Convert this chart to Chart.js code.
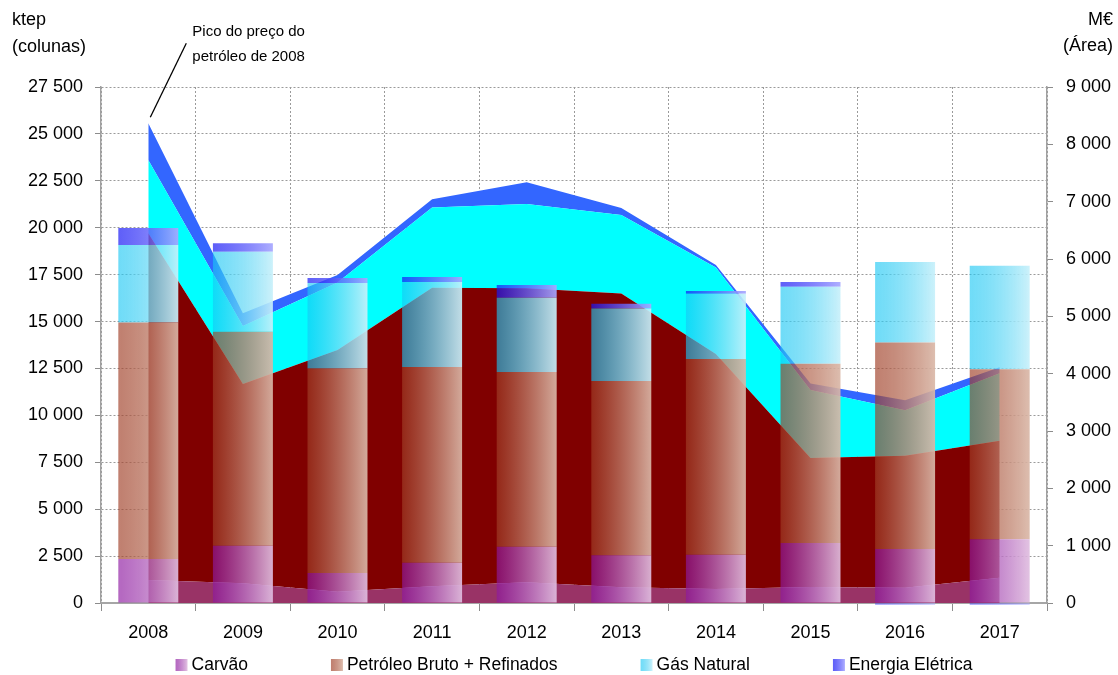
<!DOCTYPE html>
<html>
<head>
<meta charset="utf-8">
<script src="https://cdn.jsdelivr.net/npm/chart.js@4"></script>
<style>
  html, body { margin: 0; padding: 0; background: #ffffff; }
</style>
</head>
<body>
<canvas id="chart" width="1118" height="675"></canvas>
<script>
const years = ['2008', '2009', '2010', '2011', '2012', '2013', '2014', '2015', '2016', '2017'];

// columns, ktep (left axis)
const ktepCarvao = [2350, 3050, 1600, 2150, 3000, 2540, 2575, 3200, 2880, 3400];
const ktepPetroleo = [12600, 11400, 10900, 10430, 9310, 9290, 10430, 9555, 11000, 9060];
const ktepGas = [4130, 4270, 4550, 4530, 3960, 3860, 3480, 4100, 4300, 5520];
const ktepEletrica = [910, 450, 270, 270, 680, 265, 145, 250, -80, -80];

// areas, M€ (right axis)
const meurCarvao = [400, 345, 197, 290, 360, 274, 244, 279, 267, 441];
const meurPetroleo = [6050, 3475, 4215, 5210, 5130, 5126, 4100, 2250, 2300, 2390];
const meurGas = [1277, 1011, 1178, 1400, 1468, 1367, 1507, 1185, 796, 1175];
const meurEletrica = [640, 221, 130, 140, 379, 122, 45, 115, 174, 105];

const legendNames = ['Carvão', 'Petróleo Bruto + Refinados', 'Gás Natural', 'Energia Elétrica'];

const barShare = 0.634;
const FONT = "'Liberation Sans', Arial, sans-serif";

// left (saturated, see-through) -> right (pale, nearly opaque)
const barColors = [
  ['rgba(141,24,160,0.66)', 'rgba(224,190,224,0.92)'],
  ['rgba(159,61,37,0.66)', 'rgba(218,184,168,0.92)'],
  ['rgba(23,198,243,0.62)', 'rgba(200,240,250,0.92)'],
  ['rgba(23,23,245,0.69)', 'rgba(168,168,255,0.92)']
];

function fmt(v) {
  return String(v).replace(/\B(?=(\d{3})+(?!\d))/g, ' ');
}

function barFill(pair) {
  return function(context) {
    const chart = context.chart;
    const x = chart.scales.x;
    if (!chart.chartArea || !x || context.dataIndex === undefined) return pair[1];
    const center = x.getPixelForValue(context.dataIndex);
    const half = (chart.chartArea.width / years.length) * barShare / 2;
    const g = chart.ctx.createLinearGradient(center - half, 0, center + half, 0);
    g.addColorStop(0, pair[0]);
    g.addColorStop(1, pair[1]);
    return g;
  };
}

function barSet(label, data, pair) {
  return {
    type: 'bar',
    label: label,
    data: data,
    yAxisID: 'y',
    backgroundColor: barFill(pair),
    borderWidth: 0,
    categoryPercentage: 1,
    barPercentage: barShare,
    order: 1,
    clip: false
  };
}

function areaSet(label, data, color, fill) {
  return {
    type: 'line',
    label: label,
    data: data,
    yAxisID: 'y1',
    backgroundColor: color,
    borderColor: 'rgba(0,0,0,0)',
    borderWidth: 0,
    pointRadius: 0,
    tension: 0,
    fill: fill,
    order: 2
  };
}

const extras = {
  id: 'extras',
  afterDraw(chart) {
    const ctx = chart.ctx;
    const area = chart.chartArea;
    const x = chart.scales.x;
    const y1 = chart.scales.y1;
    ctx.save();
    ctx.fillStyle = '#000';
    ctx.font = '18px ' + FONT;
    ctx.textBaseline = 'middle';

    // axis titles
    ctx.textAlign = 'left';
    ctx.fillText('ktep', 12, area.top - 67);
    ctx.fillText('(colunas)', 12, area.top - 40);
    ctx.textAlign = 'right';
    ctx.fillText('M€', chart.width - 5, area.top - 67);
    ctx.fillText('(Área)', chart.width - 5, area.top - 41);

    // annotation on the 2008 peak
    const total08 = meurCarvao[0] + meurPetroleo[0] + meurGas[0] + meurEletrica[0];
    const px = x.getPixelForValue(0) + 2;
    const py = y1.getPixelForValue(total08) - 6;
    ctx.strokeStyle = '#000';
    ctx.lineWidth = 1.3;
    ctx.beginPath();
    ctx.moveTo(px, py);
    ctx.lineTo(px + 36, py - 74);
    ctx.stroke();
    ctx.font = '15px ' + FONT;
    ctx.textAlign = 'left';
    ctx.fillText('Pico do preço do', px + 42, py - 85);
    ctx.fillText('petróleo de 2008', px + 42, py - 60);

    // legend
    ctx.font = '17.5px ' + FONT;
    const gap = 83, box = 12, textGap = 4;
    const widths = legendNames.map(n => ctx.measureText(n).width);
    let total = gap * (legendNames.length - 1);
    widths.forEach(w => { total += box + textGap + w; });
    let cx = (area.left + area.right) / 2 - total / 2;
    const ly = 665;
    legendNames.forEach((name, i) => {
      const g = ctx.createLinearGradient(cx, 0, cx + box, 0);
      g.addColorStop(0, barColors[i][0]);
      g.addColorStop(1, barColors[i][1]);
      ctx.fillStyle = g;
      ctx.fillRect(cx, ly - 6, box, box);
      ctx.fillStyle = '#000';
      ctx.fillText(name, cx + box + textGap, ly);
      cx += box + textGap + widths[i] + gap;
    });
    ctx.restore();
  }
};

Chart.defaults.font.family = FONT;
Chart.defaults.font.size = 18;
Chart.defaults.color = '#000';

new Chart(document.getElementById('chart'), {
  data: {
    labels: years,
    datasets: [
      barSet(legendNames[0], ktepCarvao, barColors[0]),
      barSet(legendNames[1], ktepPetroleo, barColors[1]),
      barSet(legendNames[2], ktepGas, barColors[2]),
      barSet(legendNames[3], ktepEletrica, barColors[3]),
      areaSet('Carvão (M€)', meurCarvao, '#993366', 'origin'),
      areaSet('Petróleo (M€)', meurPetroleo, '#800000', '-1'),
      areaSet('Gás Natural (M€)', meurGas, '#00ffff', '-1'),
      areaSet('Energia Elétrica (M€)', meurEletrica, '#3366ff', '-1')
    ]
  },
  options: {
    responsive: false,
    animation: false,
    layout: { padding: { top: 87, left: 0, right: 0, bottom: 0 } },
    plugins: {
      legend: { display: false },
      tooltip: { enabled: false },
      title: { display: false }
    },
    scales: {
      x: {
        stacked: true,
        offset: true,
        grid: { offset: true, color: '#9a9a9a', tickColor: '#8c8c8c', tickLength: 8 },
        border: { color: '#a6a6a6', width: 2, dash: [2, 2] },
        ticks: { padding: 11, maxRotation: 0, autoSkip: false },
        afterFit: s => { s.height = 72; }
      },
      y: {
        stacked: true,
        min: 0,
        max: 27500,
        grid: { color: '#9a9a9a', tickColor: '#8c8c8c', tickLength: 6 },
        border: { color: '#a0a0a0', width: 1.5, dash: [2, 2] },
        ticks: { stepSize: 2500, padding: 12, callback: v => fmt(v) },
        afterFit: s => { s.width = 101; }
      },
      y1: {
        position: 'right',
        stacked: true,
        min: 0,
        max: 9000,
        grid: { drawOnChartArea: false, tickColor: '#8c8c8c', tickLength: 6 },
        border: { color: '#a0a0a0', width: 1.5 },
        ticks: { stepSize: 1000, padding: 13, callback: v => fmt(v) },
        afterFit: s => { s.width = 71; }
      }
    }
  },
  plugins: [extras]
});
</script>
</body>
</html>
